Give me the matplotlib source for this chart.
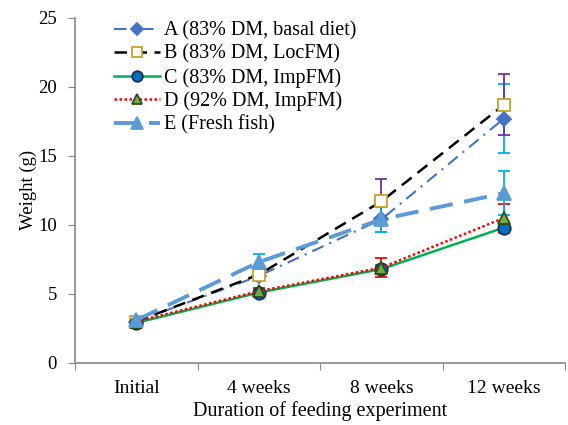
import numpy as np
import matplotlib
matplotlib.use("Agg")
import matplotlib.pyplot as plt

# data
stages = ['Initial', '4 weeks', '8 weeks', '12 weeks']
labels = ['A (83% DM, basal diet)', 'B (83% DM, LocFM)', 'C (83% DM, ImpFM)',
          'D (92% DM, ImpFM)', 'E (Fresh fish)']
A = [3.0, 6.3, 10.4, 17.7]
B = [3.0, 6.4, 11.7, 18.7]
C = [2.9, 5.1, 6.8, 9.8]
D = [3.0, 5.2, 6.9, 10.5]
E = [3.1, 7.3, 10.4, 12.3]
A_err = [0.1, 0.3, 0.9, 2.5]
B_err = [0.1, 0.3, 1.6, 2.2]
C_err = [0.1, 0.2, 0.3, 0.4]
D_err = [0.1, 0.2, 0.7, 1.0]
E_err = [0.1, 0.6, 0.9, 1.6]

plt.rcParams['font.family'] = ['Liberation Serif', 'DejaVu Serif']

fig = plt.figure(figsize=(5.68, 4.25), dpi=100)
ax = fig.add_axes([0.132, 0.146, 0.863, 0.812])
x = np.arange(len(stages))

# series styles: value, error, line colour, line style, width, marker, face, edge, err colour
series = [
    (A, A_err, '#4472C4', (0, (6, 3, 1, 3)), 1.5, 'D', '#4472C4', '#4472C4', '#00B0F0', 7),
    (B, B_err, 'black', (0, (5, 3)), 1.8, 's', 'white', '#C9A227', '#7030A0', 8),
    (C, C_err, '#00B050', '-', 1.8, 'o', '#0070C0', '#1F3050', '#00B050', 9),
    (D, D_err, '#FF0000', (0, (1, 1)), 1.8, '^', '#70AD47', '#2E4A1E', '#FF0000', 9),
    (E, E_err, '#5B9BD5', (0, (6, 3)), 2.8, '^', '#5B9BD5', '#5B9BD5', '#00B0F0', 10),
]

for (y, err, col, ls, lw, mk, fc, ec, errcol, ms), lab in zip(series, labels):
    ax.errorbar(x, y, yerr=err, fmt='none', ecolor=errcol, elinewidth=1.3,
                capsize=4, capthick=1.3, zorder=2)
    ax.plot(x, y, color=col, linestyle=ls, linewidth=lw, marker=mk,
            markerfacecolor=fc, markeredgecolor=ec, markeredgewidth=1.3,
            markersize=ms, label=lab, zorder=3)

ax.set_xlim(-0.5, 3.5)
ax.set_ylim(0, 25)
ax.set_yticks([0, 5, 10, 15, 20, 25])
ax.set_xticks([-0.5, 0.5, 1.5, 2.5, 3.5])
ax.set_xticklabels([])
ax.set_xticks(x, minor=True)
ax.set_xticklabels(stages, minor=True)
ax.tick_params(axis='x', which='minor', length=0, pad=12, labelsize=14)
ax.tick_params(axis='x', which='major', length=5, color='#888888')
ax.tick_params(axis='y', length=5, color='#888888', labelsize=13.5, pad=8)

for s in ['top', 'right']:
    ax.spines[s].set_visible(False)
for s in ['left', 'bottom']:
    ax.spines[s].set_color('#888888')
    ax.spines[s].set_linewidth(1.2)

ax.set_xlabel('Duration of feeding experiment', fontsize=14.5, labelpad=3)
ax.set_ylabel('Weight (g)', fontsize=13.5, labelpad=1)

leg = ax.legend(loc='upper left', bbox_to_anchor=(0.055, 1.025), frameon=False,
                fontsize=14.5, handlelength=2.3, handletextpad=0.2,
                labelspacing=0.2, borderaxespad=0.2, markerscale=0.85)

fig.savefig('out.png', dpi=100)
